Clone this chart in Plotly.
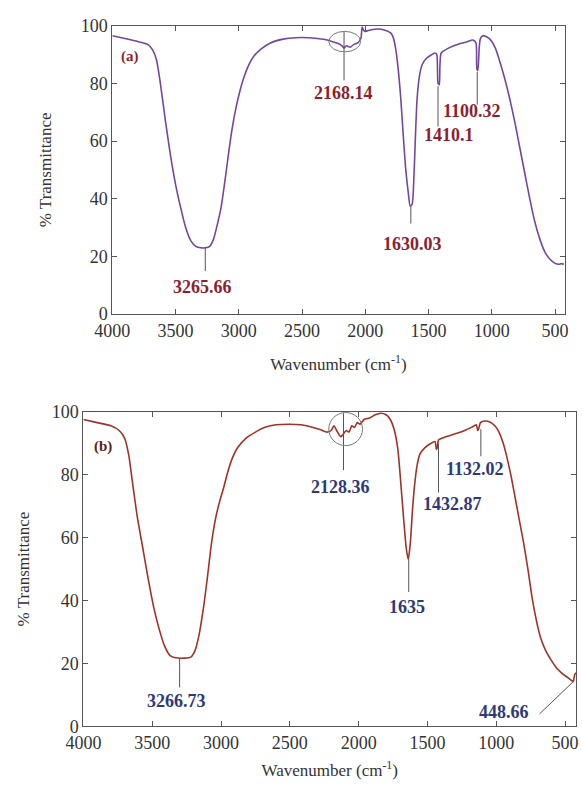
import plotly.graph_objects as go

# ---------------- data ----------------
a_wavenumber = [4000, 3900, 3800, 3720, 3680, 3650, 3620, 3580, 3540, 3500, 3460, 3420, 3380, 3340,
                3300, 3265, 3230, 3200, 3170, 3140, 3110, 3080, 3050, 3020, 2990, 2960, 2920, 2880,
                2820, 2750, 2650, 2550, 2450, 2380, 2300, 2250, 2200, 2180, 2168, 2150, 2120, 2090,
                2060, 2035, 2025, 2015, 2000, 1960, 1900, 1850, 1800, 1780, 1760, 1740, 1720, 1700,
                1680, 1660, 1645, 1630, 1618, 1605, 1590, 1570, 1550, 1520, 1480, 1450, 1435, 1425,
                1415, 1410, 1400, 1350, 1300, 1250, 1200, 1150, 1125, 1118, 1110, 1100, 1090, 1070,
                1050, 1020, 1000, 970, 940, 900, 860, 820, 780, 740, 700, 660, 620, 580, 540, 500,
                470, 450, 430]
a_transmittance = [96.5, 95.5, 94.5, 93.5, 91.5, 88, 80, 67, 55, 45, 37, 30, 25.5, 23.5,
                   23, 23, 23.5, 26, 31, 37, 46, 56, 65, 72, 77.5, 82, 86.5, 89.5,
                   92, 94, 95.3, 95.8, 95.8, 95.5, 95, 94.3, 93.5, 92.8, 92.2, 93, 92.5, 93.5,
                   94, 95.5, 99.5, 98.5, 98, 98.5, 98.8, 98.5, 97.5, 96, 92, 85, 75, 62,
                   50, 42, 37.5, 38, 45, 60, 75, 83, 86.5, 88.5, 89.8, 90.5, 90, 80,
                   79.5, 86, 90.5, 92, 93, 93.8, 94.3, 95, 94, 85, 84.5, 92, 95.5, 96.5,
                   96.3, 95.5, 94.5, 92, 88, 82, 75, 67, 58, 49, 40, 32, 26, 21.5, 19, 17.6,
                   17.3, 17.5, 17.3]

b_wavenumber = [4000, 3900, 3800, 3740, 3700, 3670, 3645, 3610, 3570, 3530, 3490, 3450, 3410, 3370,
                3330, 3266, 3220, 3190, 3160, 3130, 3100, 3070, 3040, 3010, 2980, 2950, 2920, 2880,
                2820, 2750, 2680, 2600, 2500, 2420, 2350, 2280, 2230, 2200, 2180, 2160, 2140, 2128,
                2110, 2090, 2070, 2050, 2030, 2010, 1990, 1960, 1920, 1880, 1840, 1800, 1770, 1740,
                1715, 1695, 1675, 1655, 1640, 1625, 1610, 1595, 1575, 1555, 1520, 1480, 1445, 1435,
                1428, 1420, 1380, 1330, 1280, 1230, 1180, 1145, 1135, 1128, 1115, 1080, 1050, 1010,
                980, 950, 920, 890, 860, 830, 800, 770, 740, 710, 680, 640, 600, 560, 520, 480,
                450, 440, 430, 420]
b_transmittance = [97.5, 96.5, 95.5, 94, 91.5, 86, 78, 67, 57, 47, 38, 31, 25.5, 22.5,
                   21.8, 21.7, 22, 24, 29, 37, 47, 58, 66, 71.5, 76, 81, 85, 88.5,
                   91.5, 93.5, 95, 95.8, 96, 95.8, 95.2, 94.3, 93.5, 94, 95.5, 94, 92.5, 92,
                   93, 94, 93.5, 95.5, 95, 96.5, 96, 97.5, 98, 99, 99.5, 99, 97.5, 94,
                   88, 78, 67, 57, 53, 58, 68, 76, 83, 86.5, 88.5, 89.8, 90.5, 88,
                   88.5, 91, 91.8, 92.5, 93.2, 94, 95, 95.8, 94, 94.5, 96.5, 97, 96.8, 95.5,
                   93.5, 90, 85, 79, 72, 65, 58, 50, 41, 34, 28.5, 24, 21, 18.5, 16.8, 15.5,
                   14.5, 14.3, 16.5, 17]

x_ticks = [4000, 3500, 3000, 2500, 2000, 1500, 1000, 500]
y_ticks = [0, 20, 40, 60, 80, 100]

a_peak_labels = ["3265.66", "2168.14", "1630.03", "1410.1", "1100.32"]
a_peak_pos = [3265, 2168, 1640, 1425, 1115]
b_peak_labels = ["3266.73", "2128.36", "1635", "1432.87", "1132.02"]
b_peak_pos = [3301, 2110, 1636, 1420, 1112]

# --------------- label placement (layout, not data) ---------------
a_line_from = [23, 98, 37.5, 79, 84]
a_line_to = [14.9, 81, 31.4, 65, 72.6]
a_text_xy = [(3285, 9.3), (2174, 76.7), (1626, 24.3), (1336, 62.2), (1154, 70.3)]
b_line_from = [21.7, 99.5, 53, 89.8, 94.4]
b_line_to = [12.4, 81.4, 42.7, 74.3, 85.8]
b_text_xy = [(3322, 8.0), (2133, 75.9), (1650, 37.8), (1315, 70.6), (1154, 81.7)]

A_COLOR = "#7446A0"
B_COLOR = "#9E3328"
A_TEXT = "#8E1F2F"
B_TEXT = "#2E3A78"
SERIF = "Liberation Serif"
AXC = "#555555"

W, H = 582, 793

fig = go.Figure()
fig.add_trace(go.Scatter(x=a_wavenumber, y=a_transmittance, mode="lines",
                         line=dict(color=A_COLOR, width=1.6, shape="spline", smoothing=0.6),
                         xaxis="x", yaxis="y", showlegend=False))
fig.add_trace(go.Scatter(x=b_wavenumber, y=b_transmittance, mode="lines",
                         line=dict(color=B_COLOR, width=1.6, shape="spline", smoothing=0.6),
                         xaxis="x2", yaxis="y2", showlegend=False))

def xax(dom, rng, standoff):
    return dict(domain=dom, range=rng, tickvals=x_ticks, ticks="inside", ticklen=5,
                tickcolor=AXC, showline=True, linecolor=AXC, linewidth=1, mirror="ticks",
                showgrid=False, zeroline=False,
                tickfont=dict(family=SERIF, size=18, color="#333"),
                title=dict(text="Wavenumber (cm<sup>-1</sup>)", standoff=standoff,
                           font=dict(family=SERIF, size=17, color="#333")))

def yax(dom, anchor, standoff):
    return dict(domain=dom, range=[0, 100], tickvals=y_ticks, ticks="inside", ticklen=5,
                tickcolor=AXC, showline=True, linecolor=AXC, linewidth=1, mirror="ticks",
                showgrid=False, zeroline=False, anchor=anchor,
                tickfont=dict(family=SERIF, size=18, color="#333"),
                title=dict(text="% Transmittance", standoff=standoff,
                           font=dict(family=SERIF, size=17, color="#333")))

fig.update_layout(
    width=W, height=H, margin=dict(l=0, r=0, t=0, b=0),
    paper_bgcolor="white", plot_bgcolor="white",
    xaxis=dict(xax([98 / W, 568 / W], [4000, 425], 18), anchor="y"),
    yaxis=yax([1 - 312 / H, 1 - 16 / H], "x", 24),
    xaxis2=dict(xax([68 / W, 580 / W], [4000, 420], 12), anchor="y2"),
    yaxis2=yax([1 - 735 / H, 1 - 412 / H], "x2", 17),
)

shapes = []
annotations = []
for lab, px, y0, y1, (tx, ty) in zip(a_peak_labels, a_peak_pos, a_line_from, a_line_to, a_text_xy):
    shapes.append(dict(type="line", xref="x", yref="y", x0=px, x1=px, y0=y0, y1=y1,
                       line=dict(color=AXC, width=1)))
    annotations.append(dict(xref="x", yref="y", x=tx, y=ty, text="<b>%s</b>" % lab, showarrow=False,
                            font=dict(family=SERIF, size=18, color=A_TEXT)))
for lab, px, y0, y1, (tx, ty) in zip(b_peak_labels, b_peak_pos, b_line_from, b_line_to, b_text_xy):
    shapes.append(dict(type="line", xref="x2", yref="y2", x0=px, x1=px, y0=y0, y1=y1,
                       line=dict(color=AXC, width=1)))
    annotations.append(dict(xref="x2", yref="y2", x=tx, y=ty, text="<b>%s</b>" % lab, showarrow=False,
                            font=dict(family=SERIF, size=18, color=B_TEXT)))

# extra b label with diagonal leader
shapes.append(dict(type="line", xref="x2", yref="y2", x0=685, x1=434, y0=4.0, y1=14.5,
                   line=dict(color=AXC, width=1)))
annotations.append(dict(xref="x2", yref="y2", x=944, y=4.6, text="<b>448.66</b>", showarrow=False,
                        font=dict(family=SERIF, size=18, color=B_TEXT)))

# circles around the weak bands
shapes.append(dict(type="circle", xref="x", yref="y", x0=2288, x1=2037, y0=90.9, y1=98,
                   line=dict(color="#777", width=1)))
shapes.append(dict(type="circle", xref="x2", yref="y2", x0=2217, x1=1972, y0=89.2, y1=99.7,
                   line=dict(color="#777", width=1)))

# panel letters
annotations.append(dict(xref="x", yref="y", x=3863, y=89.2, text="<b>(a)</b>", showarrow=False,
                        font=dict(family=SERIF, size=15, color=A_TEXT)))
annotations.append(dict(xref="x2", yref="y2", x=3860, y=88.9, text="<b>(b)</b>", showarrow=False,
                        font=dict(family=SERIF, size=15, color="#5A2020")))

fig.update_layout(shapes=shapes, annotations=annotations)
fig.write_html("out.html")
